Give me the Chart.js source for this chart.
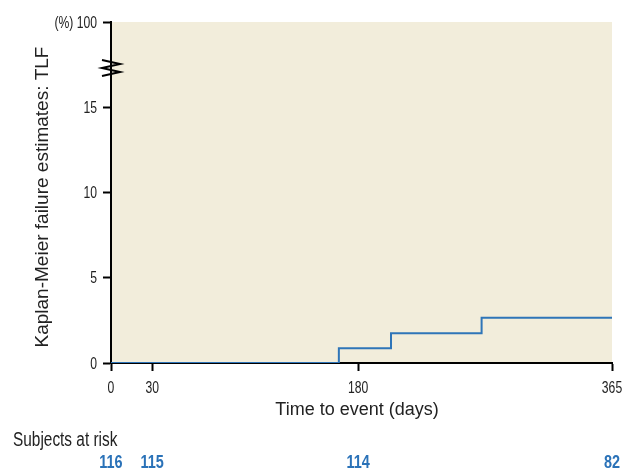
<!DOCTYPE html>
<html>
<head>
<meta charset="utf-8">
<script src="https://cdn.jsdelivr.net/npm/chart.js@4"></script>
<style>
  html, body { margin: 0; padding: 0; background: #fff; }
  #wrap { width: 623px; height: 470px; }
</style>
</head>
<body>
<div id="wrap"><canvas id="kmChart"></canvas></div>
<script>
const days = [0, 166, 204, 270, 365];
const tlf = [0, 0.86, 1.75, 2.65, 2.65];
const xTicks = [0, 30, 180, 365];
const yTicks = [0, 5, 10, 15, 20];
const yTickLabels = ['0', '5', '10', '15', '(%) 100'];
const riskDays = [0, 30, 180, 365];
const riskCounts = [116, 115, 114, 82];
const breakAt = 17.3;

const SANS = "'Liberation Sans', Arial, sans-serif";

// condensed look: squeeze the text horizontally
function narrowText(ctx, str, x, y, font, align, sx) {
    ctx.save();
    ctx.font = font;
    ctx.textAlign = align;
    ctx.textBaseline = 'alphabetic';
    ctx.translate(x, y);
    ctx.scale(sx, 1);
    ctx.fillText(str, 0, 0);
    ctx.restore();
}

const extras = {
    id: 'extras',
    beforeDraw(chart) {
        const { ctx, chartArea: a } = chart;
        ctx.save();
        ctx.fillStyle = '#f2eddb';
        ctx.fillRect(a.left, a.top, a.right - a.left, a.bottom - a.top);
        ctx.restore();
    },
    afterDraw(chart) {
        const { ctx, chartArea: a, scales } = chart;
        const x = scales.x, y = scales.y;

        ctx.save();
        // axis break
        const by = y.getPixelForValue(breakAt);
        ctx.strokeStyle = '#000';
        ctx.lineWidth = 2;
        ctx.beginPath();
        ctx.moveTo(a.left - 9, by - 8);
        ctx.lineTo(a.left + 9, by - 4);
        ctx.lineTo(a.left - 9, by);
        ctx.lineTo(a.left + 9, by + 4);
        ctx.lineTo(a.left - 9, by + 8);
        ctx.stroke();
        ctx.restore();

        ctx.save();
        ctx.fillStyle = '#222';
        // tick labels
        yTicks.forEach((v, i) => {
            narrowText(ctx, yTickLabels[i], 97, y.getPixelForValue(v) + 5.5, '16px ' + SANS, 'right', 0.76);
        });
        xTicks.forEach(v => {
            narrowText(ctx, String(v), x.getPixelForValue(v), 393, '16px ' + SANS, 'center', 0.76);
        });

        // axis titles
        ctx.font = '18px ' + SANS;
        ctx.textAlign = 'center';
        ctx.textBaseline = 'alphabetic';
        ctx.fillText('Time to event (days)', 357, 415);

        ctx.save();
        ctx.font = '19px ' + SANS;
        ctx.textBaseline = 'middle';
        ctx.translate(43, 197);
        ctx.rotate(-Math.PI / 2);
        ctx.fillText('Kaplan-Meier failure estimates: TLF', 0, 0);
        ctx.restore();

        // risk table
        narrowText(ctx, 'Subjects at risk', 13, 446, '20px ' + SANS, 'left', 0.77);
        ctx.fillStyle = '#2a72b8';
        riskDays.forEach((d, i) => {
            narrowText(ctx, String(riskCounts[i]), x.getPixelForValue(d), 468, 'bold 18.5px ' + SANS, 'center', 0.78);
        });
        ctx.restore();
    }
};

new Chart(document.getElementById('kmChart'), {
    type: 'line',
    data: {
        datasets: [{
            data: days.map((d, i) => ({ x: d, y: tlf[i] })),
            borderColor: '#2f75b8',
            borderWidth: 2,
            stepped: true,
            pointRadius: 0,
            fill: false
        }]
    },
    options: {
        responsive: true,
        maintainAspectRatio: false,
        animation: false,
        layout: { padding: { top: 22, right: 11, bottom: 0, left: 0 } },
        plugins: { legend: { display: false }, tooltip: { enabled: false } },
        scales: {
            x: {
                type: 'linear',
                min: 0,
                max: 365,
                afterBuildTicks: s => { s.ticks = xTicks.map(v => ({ value: v })); },
                afterFit: s => { s.height = 107; },
                border: { color: '#000', width: 2 },
                grid: { drawOnChartArea: false, tickLength: 8, tickColor: '#000', tickWidth: 2 },
                ticks: { display: false }
            },
            y: {
                type: 'linear',
                min: 0,
                max: 20,
                afterBuildTicks: s => { s.ticks = yTicks.map(v => ({ value: v })); },
                afterFit: s => { s.width = 111; },
                border: { color: '#000', width: 2 },
                grid: { drawOnChartArea: false, tickLength: 8, tickColor: '#000', tickWidth: 2 },
                ticks: { display: false }
            }
        }
    },
    plugins: [extras]
});
</script>
</body>
</html>
